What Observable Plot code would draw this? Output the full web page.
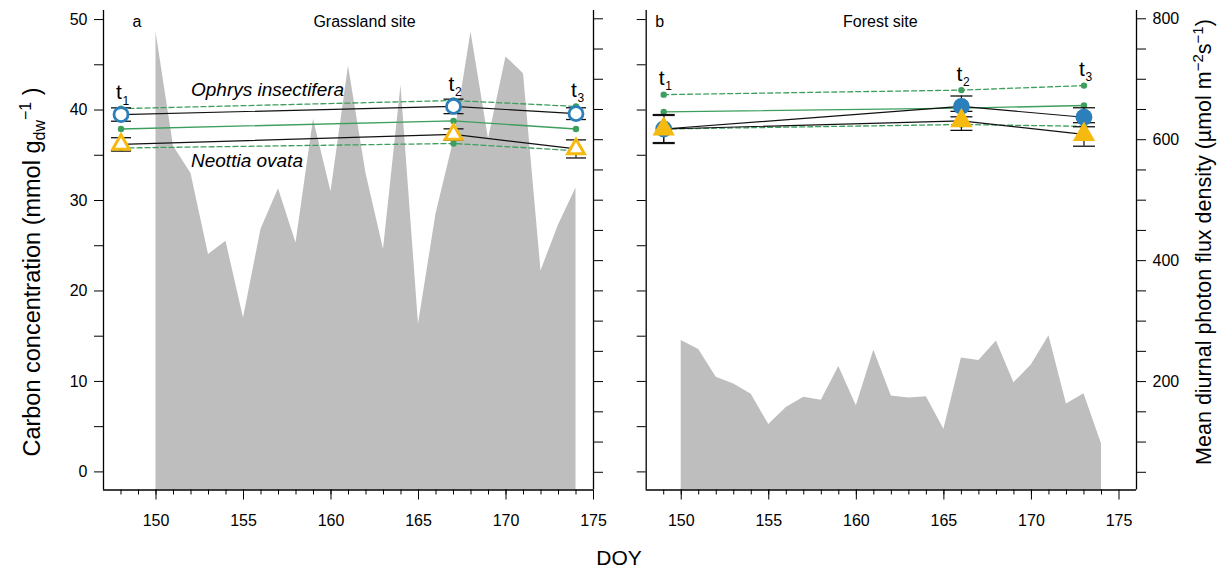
<!DOCTYPE html>
<html>
<head>
<meta charset="utf-8">
<script src="https://cdn.jsdelivr.net/npm/d3@7"></script>
<script src="https://cdn.jsdelivr.net/npm/@observablehq/plot@0.6"></script>
<style>
  html, body { margin: 0; padding: 0; background: #fff; }
  #fig { position: relative; width: 1219px; height: 574px; font-family: "Liberation Sans", Arial, sans-serif; }
  #fig svg { position: absolute; top: 0; }
</style>
</head>
<body>
<div id="fig"></div>
<script>
// ---------------- DATA ----------------
// Daily mean diurnal photon flux density (µmol m-2 s-1), DOY 150..174
const ppfdDOY = [150,151,152,153,154,155,156,157,158,159,160,161,162,163,164,165,166,167,168,169,170,171,172,173,174];
const ppfdGrassland = [778,589,544,410,432,305,452,519,429,634,514,722,544,419,690,295,477,597,778,601,737,709,383,459,520];
const ppfdForest    = [268,253,207,196,179,129,157,174,169,225,160,252,176,173,175,121,239,235,267,198,228,276,163,180,97];

// Sampling dates (t1, t2, t3)
const grassDOY  = [148,167,174];
const forestDOY = [149,166,173];
const timeLabels = ["1","2","3"];

// Carbon concentration (mmol g_dw^-1), Grassland site
const grassOphrys      = [39.5, 40.4, 39.6];
const grassOphrysErr   = [0.74, 0.80, 0.65];
const grassNeottia     = [36.2, 37.3, 35.7];
const grassNeottiaErr  = [0.74, 0.62, 1.00];
const grassRefMean     = [37.9, 38.8, 37.9];
const grassRefUpper    = [40.15, 41.05, 40.4];
const grassRefLower    = [35.8, 36.3, 35.5];

// Carbon concentration, Forest site
const forestOphrys     = [37.9, 40.4, 39.2];
const forestOphrysErr  = [1.50, 1.15, 1.05];
const forestNeottia    = [37.9, 38.8, 37.3];
const forestNeottiaErr = [1.60, 1.05, 1.30];
const forestRefMean    = [39.8, 40.2, 40.5];
const forestRefUpper   = [41.7, 42.2, 42.7];
const forestRefLower   = [37.9, 38.4, 38.2];

// Tick values
const carbonTicks  = [0,5,10,15,20,25,30,35,40,45,50];
const carbonLabels = [0,10,20,30,40,50];
const ppfdTicks    = [50,100,150,200,250,300,350,400,450,500,550,600,650,700,750,800];
const ppfdLabels   = [200,400,600,800];
const doyMajor     = [150,155,160,165,170,175];
const speciesNames = ["Ophrys insectifera", "Neottia ovata"];

// ---------------- SCALES / STYLE ----------------
const carbonDomain = [-2, 51];
const ppfdDomain   = [20.7, 813.7];
const toC = d3.scaleLinear().domain(ppfdDomain).range(carbonDomain); // secondary axis mapping

const GREY = "#bebebe", BLUE = "#2b7fba", AMBER = "#f5b90f", GREEN = "#3c9f5d";
const FONT = "'Liberation Sans', Arial, Helvetica, sans-serif";

const capSymbol = { draw(ctx, size) { const r = Math.sqrt(size / Math.PI); ctx.moveTo(-r, 0); ctx.lineTo(r, 0); } };

function panel(cfg) {
  const rows = (vals, errs) => cfg.doy.map((d, i) => ({ doy: d, v: vals[i], e: errs ? errs[i] : 0 }));
  const oph = rows(cfg.ophrys, cfg.ophrysErr);
  const neo = rows(cfg.neottia, cfg.neottiaErr);
  const refM = rows(cfg.refMean), refU = rows(cfg.refUpper), refL = rows(cfg.refLower);
  const area = ppfdDOY.map((d, i) => ({ doy: d, c: toC(cfg.ppfd[i]) }));
  const tops = cfg.doy.map((d, i) => ({
    doy: d, t: timeLabels[i],
    v: d3.max([cfg.ophrys[i], cfg.neottia[i], cfg.refMean[i], cfg.refUpper[i], cfg.refLower[i]])
  }));
  const minorTicks = d3.range(cfg.xDomain[0] + 1, 175);
  const errs = [...oph, ...neo];

  const marks = [
    Plot.areaY(area, { x: "doy", y1: carbonDomain[0], y2: "c", fill: GREY }),
    Plot.line(refM, { x: "doy", y: "v", stroke: GREEN, strokeWidth: 1.3 }),
    Plot.line(refU, { x: "doy", y: "v", stroke: GREEN, strokeWidth: 1.3, strokeDasharray: "5,3" }),
    Plot.line(refL, { x: "doy", y: "v", stroke: GREEN, strokeWidth: 1.3, strokeDasharray: "5,3" }),
    Plot.dot([...refM, ...refU, ...refL], { x: "doy", y: "v", r: 3.2, fill: GREEN }),
    Plot.line(oph, { x: "doy", y: "v", stroke: "#111", strokeWidth: 1.2 }),
    Plot.line(neo, { x: "doy", y: "v", stroke: "#111", strokeWidth: 1.2 }),
    Plot.ruleX(errs, { x: "doy", y1: d => d.v - d.e, y2: d => d.v + d.e, stroke: "#111", strokeWidth: 1.2 }),
    Plot.dot(errs, { x: "doy", y: d => d.v - d.e, symbol: capSymbol, r: cfg.capR, stroke: "#111", strokeWidth: 1.3 }),
    Plot.dot(errs, { x: "doy", y: d => d.v + d.e, symbol: capSymbol, r: cfg.capR, stroke: "#111", strokeWidth: 1.3 }),
    cfg.open
      ? Plot.dot(oph, { x: "doy", y: "v", r: 7, stroke: BLUE, strokeWidth: 2.8, fill: "white" })
      : Plot.dot(oph, { x: "doy", y: "v", r: 8.4, fill: BLUE }),
    cfg.open
      ? Plot.dot(neo, { x: "doy", y: "v", symbol: "triangle", r: 6.2, stroke: AMBER, strokeWidth: 3, fill: "white" })
      : Plot.dot(neo, { x: "doy", y: "v", symbol: "triangle", r: 8.3, fill: AMBER }),
    // time-point labels t1, t2, t3
    Plot.text(tops, { x: "doy", y: "v", text: () => "t", dx: -2, dy: -16, fontSize: 21, textAnchor: "middle" }),
    Plot.text(tops, { x: "doy", y: "v", text: "t", dx: 1.5, dy: -8, fontSize: 12, textAnchor: "start" }),
    // panel tag and title
    Plot.text([cfg.tag], { frameAnchor: "top-left", dx: cfg.tagDx, dy: 5, fontSize: 16, textAnchor: "start" }),
    Plot.text([cfg.title], { frameAnchor: "top", dx: cfg.titleDx, dy: 5, fontSize: 16 }),
    // axes
    Plot.axisY({ anchor: "left", ticks: carbonTicks, tickSize: 9, tickPadding: 7, fontSize: 16, label: null,
      tickFormat: d => (cfg.labelLeft && carbonLabels.includes(d)) ? String(d) : "" }),
    Plot.axisY({ anchor: "right", ticks: ppfdTicks.map(toC), tickSize: 9, tickPadding: 7, fontSize: 16, label: null,
      tickFormat: c => { const p = Math.round(toC.invert(c)); return (cfg.labelRight && ppfdLabels.includes(p)) ? String(p) : ""; } }),
    Plot.axisX({ ticks: minorTicks, tickSize: 5, tickFormat: () => "", label: null }),
    Plot.axisX({ ticks: doyMajor, tickSize: 10, tickPadding: 15, fontSize: 16, label: null }),
    Plot.ruleX(cfg.xDomain, { stroke: "black", strokeWidth: 1.3 }),
    Plot.ruleY([carbonDomain[0]], { stroke: "black", strokeWidth: 1.3 })
  ];
  if (cfg.species) {
    marks.push(Plot.text(cfg.species, { x: "doy", y: "c", text: "name", fontStyle: "italic", fontSize: 19, textAnchor: "start" }));
  }

  const svg = Plot.plot({
    width: cfg.width, height: 574,
    marginLeft: cfg.marginLeft, marginRight: cfg.marginRight, marginTop: 10, marginBottom: 84.5,
    x: { domain: cfg.xDomain },
    y: { domain: carbonDomain },
    style: { fontFamily: FONT, fontSize: "16px", color: "black", background: "transparent", overflow: "visible" },
    marks
  });
  svg.style.left = cfg.left + "px";
  return svg;
}

const fig = document.getElementById("fig");

fig.appendChild(panel({
  doy: grassDOY, ophrys: grassOphrys, ophrysErr: grassOphrysErr, neottia: grassNeottia, neottiaErr: grassNeottiaErr,
  refMean: grassRefMean, refUpper: grassRefUpper, refLower: grassRefLower, ppfd: ppfdGrassland,
  xDomain: [147, 175], open: true, capR: 10,
  left: 0, width: 610, marginLeft: 103, marginRight: 17,
  tag: "a", tagDx: 29, title: "Grassland site", titleDx: 16,
  labelLeft: true, labelRight: false,
  species: [{ name: speciesNames[0], doy: 152, c: 42.2 }, { name: speciesNames[1], doy: 152, c: 34.4 }]
}));

fig.appendChild(panel({
  doy: forestDOY, ophrys: forestOphrys, ophrysErr: forestOphrysErr, neottia: forestNeottia, neottiaErr: forestNeottiaErr,
  refMean: forestRefMean, refUpper: forestRefUpper, refLower: forestRefLower, ppfd: ppfdForest,
  xDomain: [148, 176], open: false, capR: 11,
  left: 610, width: 609, marginLeft: 35.7, marginRight: 83,
  tag: "b", tagDx: 9, title: "Forest site", titleDx: -11,
  labelLeft: false, labelRight: true,
  species: null
}));

// Axis titles (with sub/superscripts)
const ov = d3.select(fig).append("svg")
  .attr("width", 1219).attr("height", 574)
  .style("left", "0px").style("pointer-events", "none")
  .attr("font-family", FONT).attr("fill", "black");

const lt = ov.append("text").attr("transform", "translate(40,272) rotate(-90)")
  .attr("text-anchor", "middle").attr("font-size", 23.5);
lt.append("tspan").text("Carbon concentration (mmol g");
lt.append("tspan").attr("font-size", 16).attr("dy", 5).text("dw");
lt.append("tspan").attr("font-size", 16).attr("dy", -14).text("\u22121");
lt.append("tspan").attr("font-size", 23.5).attr("dy", 9).text(" )");

const rt = ov.append("text").attr("transform", "translate(1211,242) rotate(-90)")
  .attr("text-anchor", "middle").attr("font-size", 21.5);
rt.append("tspan").text("Mean diurnal photon flux density (\u00b5mol m");
rt.append("tspan").attr("font-size", 15).attr("dy", -8).text("\u22122");
rt.append("tspan").attr("font-size", 21.5).attr("dy", 8).text("s");
rt.append("tspan").attr("font-size", 15).attr("dy", -8).text("\u22121");
rt.append("tspan").attr("font-size", 21.5).attr("dy", 8).text(")");

ov.append("text").attr("x", 619).attr("y", 565).attr("text-anchor", "middle").attr("font-size", 21).text("DOY");
</script>
</body>
</html>
